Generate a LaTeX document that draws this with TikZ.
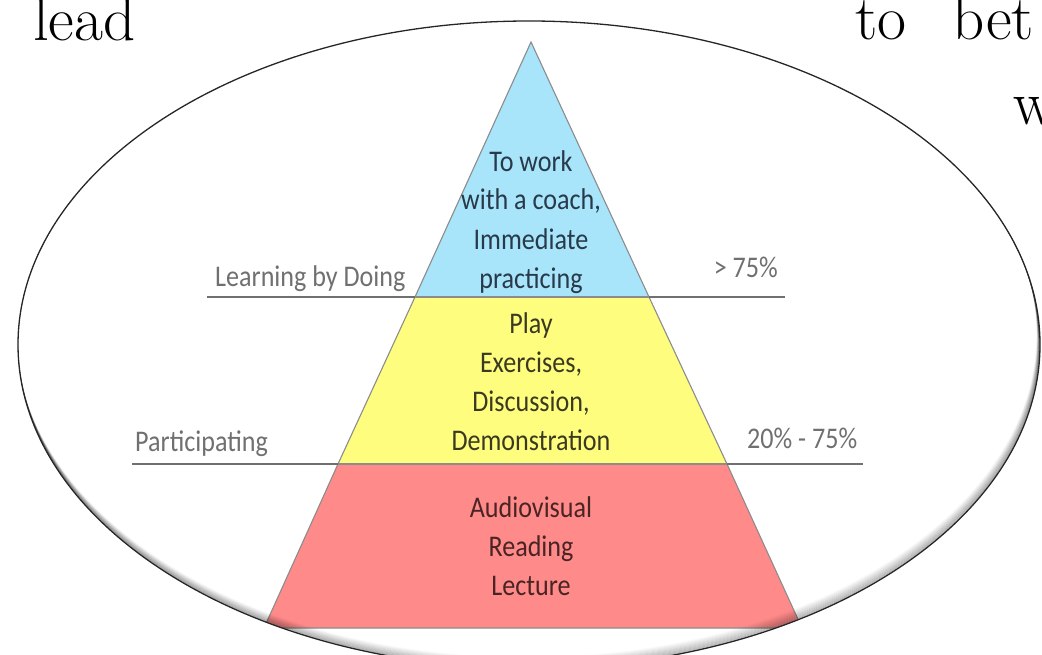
\documentclass[tikz,border=0pt]{standalone}
\usepackage{fontspec}
\newfontfamily\pyrfont{Carlito}[FakeStretch=0.87]
\definecolor{tierblue}{HTML}{A8E4FA}
\definecolor{tieryellow}{HTML}{FFFD7E}
\definecolor{tierred}{HTML}{FF8A8A}
\definecolor{labelgray}{HTML}{707070}
\definecolor{bluetext}{HTML}{283A4A}
\definecolor{yellowtext}{HTML}{3A3A22}
\definecolor{redtext}{HTML}{4A2424}
\tikzset{
  tier/.style={draw=black!45, line width=1.1pt},
  rule/.style={draw=labelgray, line width=2.2pt},
  side/.style={anchor=base, inner sep=0pt, text=labelgray},
  tiertext/.style={anchor=base, align=center, inner sep=0pt},
  slide/.style={anchor=base west, inner sep=0pt, font=\fontsize{63}{85}\selectfont},
}
\begin{document}
\begin{tikzpicture}[x=1pt, y=-1pt, font=\pyrfont\fontsize{30}{39}\selectfont]
		\useasboundingbox (0,0) rectangle (1042,655);
		\clip (0,0) rectangle (1042,655);

		% pyramid corners
		\coordinate (top) at (531,42);
		\coordinate (l1) at (415,297);
		\coordinate (r1) at (649,297);
		\coordinate (l2) at (338,464);
		\coordinate (r2) at (727,464);
		\coordinate (l3) at (264,628);
		\coordinate (r3) at (802,628);

		\begin{scope}
			\clip (529,344.6) ellipse [x radius=511, y radius=323.6];
			\fill[tierred] (l2) -- (r2) -- (r3) -- (l3) -- cycle;
			\draw[tier] (l2) -- (l3) (r2) -- (r3) (l3) -- (r3);
			\fill[tieryellow] (l1) -- (r1) -- (r2) -- (l2) -- cycle;
			\fill[tierblue] (top) -- (r1) -- (l1) -- cycle;
			\draw[tier] (l2) -- (l1) -- (top) -- (r1) -- (r2);
			\draw[tier] (l1) -- (r1) (l2) -- (r2);
			% soft inner shadow
			\foreach \s [evaluate=\s as \op using 0.2-0.016*\s] in {1,...,12}
				\draw[black, opacity=\op, line width=1.4pt, shift={(-0.25*\s,-0.9*\s)}] (529,344.6) ellipse [x radius=511, y radius=323.6];
		\end{scope}
		\draw[black!85, line width=1.3pt] (529,344.6) ellipse [x radius=511, y radius=323.6];

		% levels
		\coordinate (lbd) at (207,297);
		\coordinate (gt) at (785,297);
		\coordinate (par) at (132,464);
		\coordinate (mid) at (863,464);
		\draw[rule] (lbd) -- (l1);
		\draw[rule] (r1) -- (gt);
		\draw[rule] (par) -- (l2);
		\draw[rule] (r2) -- (mid);

		\node[side, anchor=base west] (lbdtext) at (215,287) {Learning by Doing};
		\node[side, anchor=base east] (gttext) at (778,278) {> 75\%};
		\node[side, anchor=base west] (partext) at (135,451) {Participating};
		\node[side, anchor=base west] (midtext) at (747,448) {20\% - 75\%};

		\node[tiertext, text=bluetext] (coach) at (531,288) {To work\\with a coach,\\Immediate\\practicing};
		\node[tiertext, text=yellowtext] (play) at (531,450) {Play\\Exercises,\\Discussion,\\Demonstration};
		\node[tiertext, text=redtext] (lecture) at (531,595) {Audiovisual\\Reading\\Lecture};

		% slide text behind the picture
		\node[slide] (lead) at (33,41) {lead};
		\node[slide] (tobet) at (855,40) {to\hspace{46pt}bet};
		\node[slide] (w) at (1013,125) {w};
	\end{tikzpicture}
\end{document}
